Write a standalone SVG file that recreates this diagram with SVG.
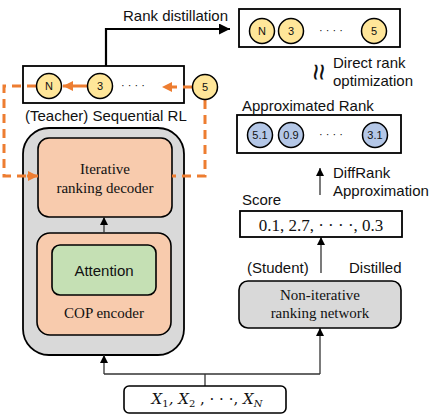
<svg xmlns="http://www.w3.org/2000/svg" width="446" height="418" viewBox="0 0 446 418">
<defs>
<style>
.sans{font-family:"Liberation Sans",Arial,sans-serif;fill:#111}
.serif{font-family:"Liberation Serif","Times New Roman",serif;fill:#111}
.box{fill:#fff;stroke:#000;stroke-width:1.8}
.yc{fill:#FFE699;stroke:#000;stroke-width:1.5}
.bc{fill:#B4C7E7;stroke:#000;stroke-width:1.5}
.ctext{font-family:"Liberation Sans",Arial,sans-serif;font-size:11px;fill:#111;text-anchor:middle}
.dash{fill:none;stroke:#ED7D31;stroke-width:3;stroke-dasharray:9,6}
.thin{fill:none;stroke:#333;stroke-width:1.3}
</style>
<marker id="ah" viewBox="0 0 10 10" refX="10" refY="5" markerWidth="8" markerHeight="8" markerUnits="userSpaceOnUse" orient="auto"><path d="M0,0 L10,5 L0,10 z" fill="#000"/></marker>
<marker id="ahb" viewBox="0 0 10 10" refX="10" refY="5" markerWidth="12" markerHeight="11" markerUnits="userSpaceOnUse" orient="auto"><path d="M0,0 L10,5 L0,10 z" fill="#000"/></marker>
<marker id="aho" viewBox="0 0 10 10" refX="10" refY="5" markerWidth="10" markerHeight="11" markerUnits="userSpaceOnUse" orient="auto"><path d="M0,0 L10,5 L0,10 z" fill="#ED7D31"/></marker>
</defs>

<g id="teacher-outer">
<rect x="23" y="128" width="161" height="227" rx="26" fill="#D9D9D9" stroke="#000" stroke-width="1.8"/>
</g>
<g id="decoder">
<rect x="38" y="138" width="134" height="79" rx="11" fill="#F8CBAD" stroke="#000" stroke-width="1.6"/>
<text class="serif" x="105" y="174" font-size="15" text-anchor="middle">Iterative</text>
<text class="serif" x="105" y="193" font-size="15" text-anchor="middle">ranking decoder</text>
</g>
<g id="encoder">
<rect x="37" y="233" width="134" height="102" rx="13" fill="#F8CBAD" stroke="#000" stroke-width="1.6"/>
<text class="serif" x="104" y="318" font-size="15" text-anchor="middle">COP encoder</text>
</g>
<g id="attention">
<rect x="52" y="245" width="104" height="50" rx="8" fill="#C5E0B4" stroke="#000" stroke-width="1.6"/>
<text class="sans" x="104" y="276" font-size="15" text-anchor="middle">Attention</text>
</g>

<g id="sequential">
<rect class="box" x="23" y="66" width="161" height="37"/>
<text class="sans" x="25" y="121" font-size="15">(Teacher) Sequential RL</text>
</g>

<g id="connectors">
<path class="dash" d="M205,100 V176 H172"/>
<path class="dash" d="M36,86 H4 V176 H28"/>
<path d="M27,176 H38" stroke="#ED7D31" stroke-width="3" marker-end="url(#aho)"/>
<path d="M87,86 H63" stroke="#ED7D31" stroke-width="3" marker-end="url(#aho)"/>
<path d="M192,87 H162" stroke="#ED7D31" stroke-width="3" stroke-dasharray="9,6" marker-end="url(#aho)"/>
<path d="M106,66 V29 H230" fill="none" stroke="#000" stroke-width="2.2" marker-end="url(#ahb)"/>
<path class="thin" d="M104,233 V217" marker-end="url(#ah)"/>
<path class="thin" d="M205,386 V374"/>
<path class="thin" d="M104,374 H320"/>
<path class="thin" d="M104,374 V355" marker-end="url(#ah)"/>
<path class="thin" d="M320,374 V328" marker-end="url(#ah)"/>
<path class="thin" d="M321,273 V237" marker-end="url(#ah)"/>
<path class="thin" d="M320,195 V168" marker-end="url(#ah)"/>
</g>

<g id="teacher-circles">
<circle class="yc" cx="49" cy="86" r="12.5"/><text class="ctext" x="49" y="90">N</text>
<circle class="yc" cx="100" cy="86" r="12.5"/><text class="ctext" x="100" y="90">3</text>
<text class="ctext" x="133" y="89">· · · ·</text>
<circle class="yc" cx="205" cy="87" r="12.5"/><text class="ctext" x="205" y="91">5</text>
</g>

<text class="sans" x="123" y="21" font-size="15">Rank distillation</text>

<g id="rank-target">
<rect class="box" x="239" y="9" width="161" height="38"/>
<circle class="yc" cx="262" cy="31" r="12.5"/><text class="ctext" x="262" y="35">N</text>
<circle class="yc" cx="291" cy="31" r="12.5"/><text class="ctext" x="291" y="35">3</text>
<text class="ctext" x="331" y="34">· · · ·</text>
<circle class="yc" cx="374" cy="31" r="12.5"/><text class="ctext" x="374" y="35">5</text>
</g>

<g id="direct-rank">
<text class="sans" x="319" y="72" font-size="30" text-anchor="middle" dominant-baseline="central" transform="rotate(90 319 72)">≈</text>
<text class="sans" x="333" y="68" font-size="15">Direct rank</text>
<text class="sans" x="333" y="86" font-size="15">optimization</text>
</g>

<g id="approx-rank">
<text class="sans" x="242" y="111" font-size="15">Approximated Rank</text>
<rect class="box" x="237" y="115" width="164" height="38"/>
<circle class="bc" cx="260" cy="135" r="12.5"/><text class="ctext" x="260" y="139">5.1</text>
<circle class="bc" cx="291" cy="135" r="12.5"/><text class="ctext" x="291" y="139">0.9</text>
<text class="ctext" x="331" y="138">· · · ·</text>
<circle class="bc" cx="375" cy="135" r="12.5"/><text class="ctext" x="375" y="139">3.1</text>
</g>

<g id="diffrank">
<text class="sans" x="333" y="178" font-size="15">DiffRank</text>
<text class="sans" x="333" y="196" font-size="15">Approximation</text>
</g>

<g id="score">
<text class="sans" x="242" y="205" font-size="15">Score</text>
<rect class="box" x="240" y="211" width="162" height="26"/>
<text class="serif" x="321" y="231" font-size="17" text-anchor="middle">0.1, 2.7, · · · ·, 0.3</text>
</g>

<text class="sans" x="247" y="273" font-size="15">(Student)</text>
<text class="sans" x="349" y="273" font-size="15">Distilled</text>

<g id="student">
<rect x="239" y="281" width="162" height="47" rx="9" fill="#D9D9D9" stroke="#000" stroke-width="1.6"/>
<text class="serif" x="320" y="300" font-size="15" text-anchor="middle">Non-iterative</text>
<text class="serif" x="320" y="318" font-size="15" text-anchor="middle">ranking network</text>
</g>

<g id="input">
<rect x="124" y="386" width="162" height="27" rx="5" fill="#fff" stroke="#000" stroke-width="1.6"/>
<text x="207" y="404" font-size="15" text-anchor="middle" font-family="'DejaVu Serif','Liberation Serif',serif" font-style="italic" fill="#111">X<tspan font-size="10" dy="3" font-style="normal">1</tspan><tspan dy="-3">, X</tspan><tspan font-size="10" dy="3" font-style="normal">2</tspan><tspan dy="-3" font-style="normal"> , · · ·, </tspan>X<tspan font-size="10" dy="3">N</tspan></text>
</g>
</svg>
